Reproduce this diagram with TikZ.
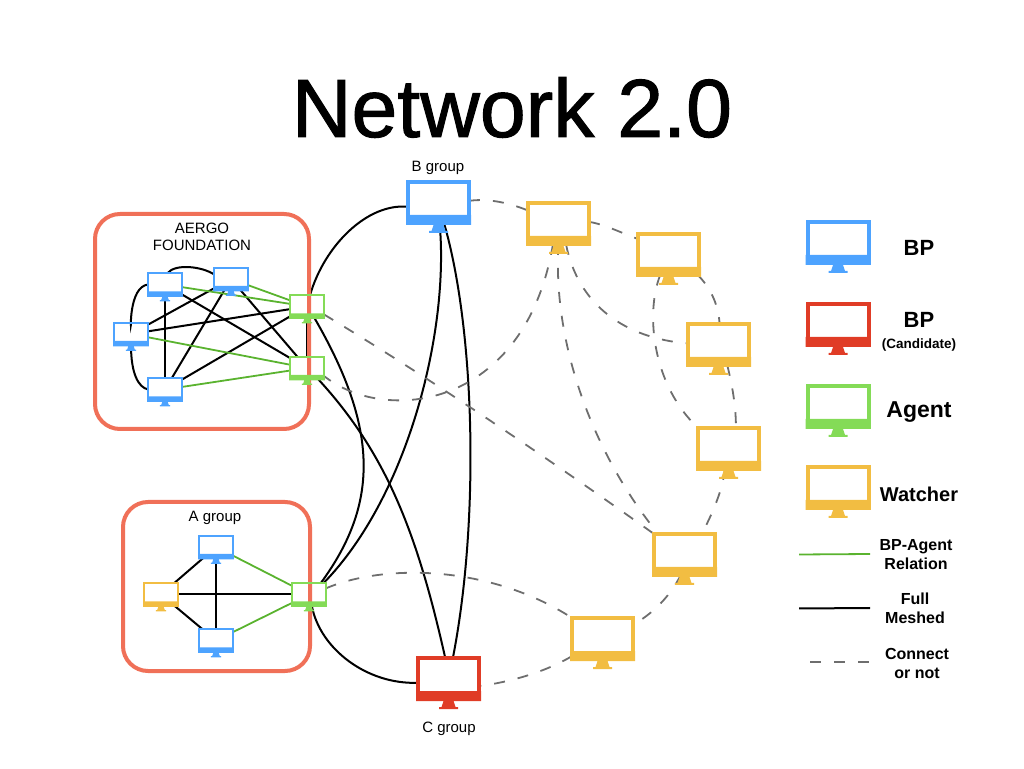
\documentclass[tikz,border=0pt]{standalone}
\usepackage{fontspec}
\setmainfont{Liberation Sans}
\newfontfamily\titlefont[FakeBold=1.2]{Liberation Sans}
\usetikzlibrary{backgrounds}
\definecolor{bpblue}{HTML}{4DA3FF}
\definecolor{candred}{HTML}{E03C26}
\definecolor{agentgreen}{HTML}{84DB57}
\definecolor{watchyellow}{HTML}{F2BD42}
\definecolor{groupred}{HTML}{F07058}
\definecolor{relgreen}{HTML}{5AB32F}
\definecolor{dashgray}{HTML}{6E6E6E}
\tikzset{
  monitor/.style 2 args={draw=#1, line width=4*#2, inner sep=0, outer sep=0, minimum width=61*#2, minimum height=41*#2,
    append after command={\pgfextra{
      \fill[#1, shift={(\tikzlastnode.south)}, scale=#2] (-32.5,-2) rectangle (32.5,8) (-5,-2) -- (5,-2) -- (7,-8) -- (9.5,-8) -- (9.5,-10) -- (-9.5,-10) -- (-9.5,-8) -- (-7,-8) -- cycle;
      \fill[white] (\tikzlastnode.north) circle (0.5*#2);
    }}},
  bp/.style={monitor={bpblue}{#1}}, bp/.default=1,
  candidate/.style={monitor={candred}{#1}}, candidate/.default=1,
  agent/.style={monitor={agentgreen}{#1}}, agent/.default=1,
  watcher/.style={monitor={watchyellow}{#1}}, watcher/.default=1,
  groupbox/.style={draw=groupred, line width=4, rounded corners=25, inner sep=0, outer sep=0},
  meshed/.style={black, line width=2},
  relation/.style={relgreen, line width=1.8},
  maybe/.style={dashgray, line width=1.8, dash pattern=on 11 off 13},
  grouptext/.style={font=\fontsize{15}{17}\selectfont, align=center},
  keytext/.style={font=\fontsize{#1}{19}\selectfont\bfseries, align=center}
}
\begin{document}
\begin{tikzpicture}[x=1pt,y=1pt]
\useasboundingbox (0,0) rectangle (1024,768);
\node[font=\fontsize{82.5}{90}\selectfont\titlefont, anchor=base] (title) at (512,631) {Network 2.0};
% groups
\node[groupbox, minimum width=214, minimum height=215] (aergo) at (202,446.5) {};
\node[groupbox, minimum width=187, minimum height=169] (agroup) at (216.5,181.5) {};
\node[grouptext] (aergotext) at (202,531) {AERGO\\FOUNDATION};
\node[grouptext] (agrouptext) at (215,250) {A group};
\node[grouptext] (bgrouptext) at (438,600) {B group};
\node[grouptext] (cgrouptext) at (449,39) {C group};
% monitors
\node[bp=0.55] (bp1) at (165,483.5) {};
\node[bp=0.55] (bp2) at (231,489) {};
\node[bp=0.55] (bp3) at (131,434) {};
\node[bp=0.55] (bp4) at (165,378.5) {};
\node[agent=0.55] (ag1) at (307,461.5) {};
\node[agent=0.55] (ag2) at (307,400) {};
\node[bp=0.55] (abp1) at (216,221) {};
\node[bp=0.55] (abp2) at (216,127.5) {};
\node[watcher=0.55] (awatch) at (161,173.5) {};
\node[agent=0.55] (aag) at (309,173.5) {};
\node[bp] (bgroup) at (438.5,565.5) {};
\node[candidate] (cgroup) at (448.5,89.5) {};
\node[watcher] (w1) at (558.5,544.5) {};
\node[watcher] (w2) at (668.5,513.5) {};
\node[watcher] (w3) at (718.5,423.5) {};
\node[watcher] (w4) at (728.5,319.5) {};
\node[watcher] (w5) at (684.5,213.5) {};
\node[watcher] (w6) at (602.5,129.5) {};
% connectors
\begin{scope}[on background layer]
\draw[meshed] (bp1) -- (bp4);
\draw[meshed] (bp3) -- (bp2);
\draw[meshed] (bp4) -- (bp2);
\draw[meshed] (bp3) -- (ag1);
\draw[meshed] (bp4) -- (ag1);
\draw[meshed] (bp1) -- (ag2);
\draw[meshed] (bp2) -- (ag2);
\draw[meshed] (ag1) -- (ag2);
\draw[meshed] (bp1.78) .. controls +(8,10) and +(-12,8) .. (bp2.165);
\draw[meshed] (bp1.west) .. controls +(-20,-2) and +(0,-12) .. (bp3.north);
\draw[meshed] (bp3.south) .. controls +(0,-28) and +(-10,2) .. (bp4.west);
\draw[relation] (bp1) -- (ag1);
\draw[relation] (bp2) -- (ag1);
\draw[relation] (bp3) -- (ag2);
\draw[relation] (bp4) -- (ag2);
\draw[meshed] (awatch) -- (abp1);
\draw[meshed] (awatch) -- (abp2);
\draw[meshed] (awatch) -- (aag);
\draw[meshed] (abp1) -- (abp2);
\draw[relation] (abp1) -- (aag);
\draw[relation] (abp2) -- (aag);
\draw[meshed] (ag1.75) .. controls +(14,49) and +(-41,4) .. (bgroup.188);
\draw[meshed] (ag1.-57) .. controls +(65,-112) and +(58,79) .. (aag.44);
\draw[meshed] (ag2.-45) .. controls +(68,-74) and +(-28,125) .. (cgroup.99);
\draw[meshed] (aag.38) .. controls +(85,87) and +(10,-107) .. (bgroup.-87);
\draw[meshed] (aag.-76) .. controls +(8,-43) and +(-51,-2) .. (cgroup.188);
\draw[meshed] (bgroup.-75) .. controls +(31,-107) and +(27,138) .. (cgroup.78);
\draw[maybe] (bgroup.3) .. controls +(20,3) and +(-17,7) .. (w1.157);
\draw[maybe] (w1.3) .. controls +(15,-2) and +(-12,4) .. (w2.153);
\draw[maybe] (w2.-35) .. controls +(11,-11) and +(-1,21) .. (w3.87);
\draw[maybe] (w2.-112) .. controls +(-15,-38) and +(-46,43) .. (w4.146);
\draw[maybe] (w3.-67) .. controls +(5,-20) and +(0,22) .. (w4.70);
\draw[maybe] (w1.-70) .. controls +(12,-61) and +(-63,5) .. (w3.178);
\draw[maybe] (w1.south) .. controls +(-6,-96) and +(-68,84) .. (w5.142);
\draw[maybe] (w1.-105) .. controls +(-28,-166) and +(61,-49) .. (ag2.-25);
\draw[maybe] (ag1.-25) .. controls +(106,-64) and +(-114,81) .. (w5.146);
\draw[maybe] (w4.-100) .. controls +(-2,-21) and +(10,19) .. (w5.50);
\draw[maybe] (w5.-100) .. controls +(-13,-25) and +(17,10) .. (w6.24);
\draw[maybe] (w6.210) .. controls +(-27,-16) and +(31,4) .. (cgroup.-14);
\draw[maybe] (aag.20) .. controls +(59,25) and +(-82,53) .. (w6.146);
\end{scope}
% legend
\node[bp] (keybp) at (838,525.5) {};
\node[candidate] (keycand) at (838,443.5) {};
\node[agent] (keyagent) at (838,361.5) {};
\node[watcher] (keywatch) at (838,280.5) {};
\node[keytext=22] (bptext) at (919,520) {BP};
\node[keytext=22] (candtext) at (919,448) {BP};
\node[keytext=13.5] (candsub) at (919,423) {(Candidate)};
\node[keytext=23] (agenttext) at (919,356) {Agent};
\node[keytext=20] (watchtext) at (919,274) {Watcher};
\node[keytext=16] (reltext) at (916,213.5) {BP-Agent\\Relation};
\node[keytext=16] (meshtext) at (915,159.5) {Full\\Meshed};
\node[keytext=16] (maybetext) at (917,105) {Connect\\or not};
\coordinate (rel1) at (799,213.5);
\coordinate (rel2) at (870,214);
\coordinate (mesh1) at (799,159.5);
\coordinate (mesh2) at (870,160);
\coordinate (maybe1) at (810,106);
\coordinate (maybe2) at (870,106);
\draw[relation] (rel1) -- (rel2);
\draw[meshed] (mesh1) -- (mesh2);
\draw[maybe] (maybe1) -- (maybe2);
\end{tikzpicture}
\end{document}
